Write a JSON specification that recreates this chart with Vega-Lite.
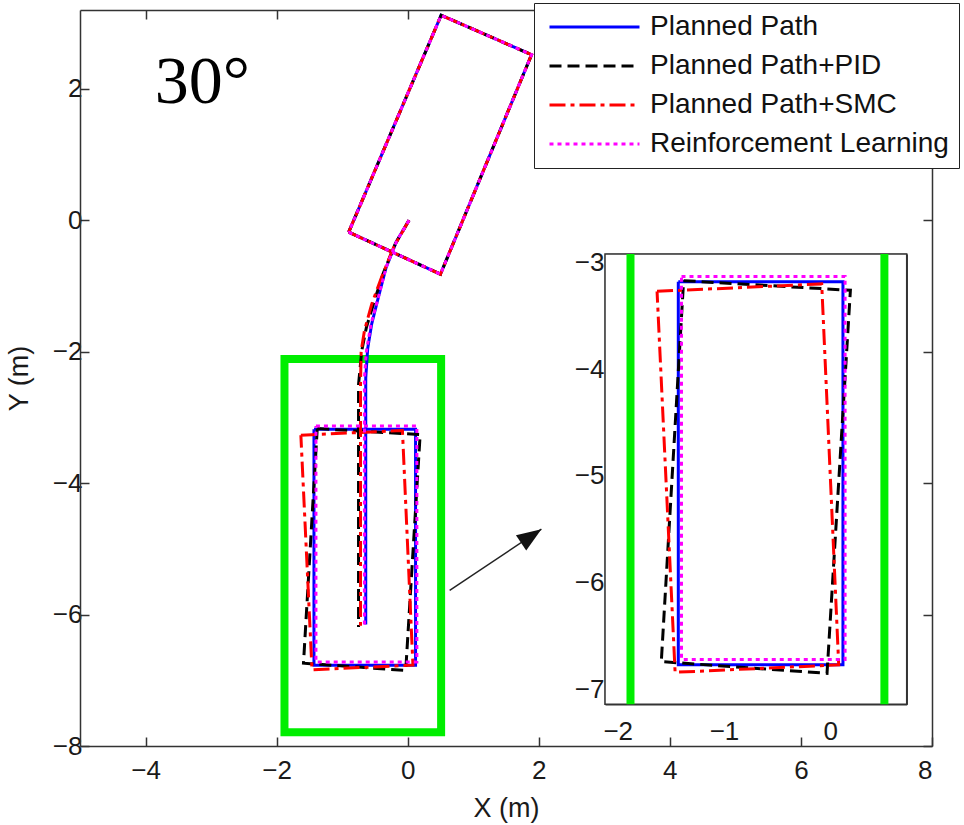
{
  "$schema": "https://vega.github.io/schema/vega-lite/v6.json",
  "width": 852,
  "height": 736,
  "autosize": {"type": "none"},
  "padding": {"left": 80, "top": 10, "right": 32, "bottom": 79},
  "background": "white",
  "config": {
    "view": {"stroke": null},
    "axis": {
      "labelFont": "Liberation Sans", "titleFont": "Liberation Sans",
      "labelFontSize": 26, "titleFontSize": 27, "titleFontWeight": "normal",
      "labelColor": "#1a1a1a", "titleColor": "#1a1a1a",
      "domainColor": "#333333", "tickColor": "#333333",
      "domainWidth": 1.5, "tickWidth": 1.5, "grid": false, "zindex": 1
    },
    "legend": {
      "symbolType": "stroke", "symbolSize": 8100, "symbolStrokeWidth": 4,
      "labelFont": "Liberation Sans", "labelFontSize": 28, "labelColor": "#111111",
      "padding": 10, "strokeColor": "#222222", "fillColor": "white",
      "rowPadding": 11, "clipHeight": 28, "labelOffset": 9, "symbolOffset": 4, "labelLimit": 500
    }
  },
  "data": {"values": [
    {"s": "Planned Path", "p": "start", "i": 0, "x": -0.90, "y": -0.18},
    {"s": "Planned Path", "p": "start", "i": 1, "x": 0.50, "y": -0.82},
    {"s": "Planned Path", "p": "start", "i": 2, "x": 1.89, "y": 2.52},
    {"s": "Planned Path", "p": "start", "i": 3, "x": 0.51, "y": 3.12},
    {"s": "Planned Path", "p": "start", "i": 4, "x": -0.90, "y": -0.18},
    {"s": "Planned Path", "p": "path", "i": 0, "x": 0.02, "y": 0.0},
    {"s": "Planned Path", "p": "path", "i": 1, "x": -0.17, "y": -0.32},
    {"s": "Planned Path", "p": "path", "i": 2, "x": -0.33, "y": -0.72},
    {"s": "Planned Path", "p": "path", "i": 3, "x": -0.45, "y": -1.18},
    {"s": "Planned Path", "p": "path", "i": 4, "x": -0.55, "y": -1.58},
    {"s": "Planned Path", "p": "path", "i": 5, "x": -0.61, "y": -1.95},
    {"s": "Planned Path", "p": "path", "i": 6, "x": -0.64, "y": -2.4},
    {"s": "Planned Path", "p": "path", "i": 7, "x": -0.64, "y": -6.15},
    {"s": "Planned Path", "p": "end", "i": 0, "x": -1.43, "y": -3.18},
    {"s": "Planned Path", "p": "end", "i": 1, "x": 0.12, "y": -3.18},
    {"s": "Planned Path", "p": "end", "i": 2, "x": 0.12, "y": -6.77},
    {"s": "Planned Path", "p": "end", "i": 3, "x": -1.43, "y": -6.77},
    {"s": "Planned Path", "p": "end", "i": 4, "x": -1.43, "y": -3.18},

    {"s": "Planned Path+PID", "p": "start", "i": 0, "x": -0.90, "y": -0.18},
    {"s": "Planned Path+PID", "p": "start", "i": 1, "x": 0.50, "y": -0.82},
    {"s": "Planned Path+PID", "p": "start", "i": 2, "x": 1.89, "y": 2.52},
    {"s": "Planned Path+PID", "p": "start", "i": 3, "x": 0.51, "y": 3.12},
    {"s": "Planned Path+PID", "p": "start", "i": 4, "x": -0.90, "y": -0.18},
    {"s": "Planned Path+PID", "p": "path", "i": 0, "x": 0.02, "y": 0.0},
    {"s": "Planned Path+PID", "p": "path", "i": 1, "x": -0.19, "y": -0.36},
    {"s": "Planned Path+PID", "p": "path", "i": 2, "x": -0.37, "y": -0.80},
    {"s": "Planned Path+PID", "p": "path", "i": 3, "x": -0.51, "y": -1.23},
    {"s": "Planned Path+PID", "p": "path", "i": 4, "x": -0.63, "y": -1.63},
    {"s": "Planned Path+PID", "p": "path", "i": 5, "x": -0.70, "y": -1.98},
    {"s": "Planned Path+PID", "p": "path", "i": 6, "x": -0.75, "y": -2.5},
    {"s": "Planned Path+PID", "p": "path", "i": 7, "x": -0.75, "y": -6.19},
    {"s": "Planned Path+PID", "p": "end", "i": 0, "x": -1.38, "y": -3.17},
    {"s": "Planned Path+PID", "p": "end", "i": 1, "x": 0.19, "y": -3.26},
    {"s": "Planned Path+PID", "p": "end", "i": 2, "x": -0.03, "y": -6.85},
    {"s": "Planned Path+PID", "p": "end", "i": 3, "x": -1.59, "y": -6.74},
    {"s": "Planned Path+PID", "p": "end", "i": 4, "x": -1.38, "y": -3.17},

    {"s": "Planned Path+SMC", "p": "start", "i": 0, "x": -0.90, "y": -0.18},
    {"s": "Planned Path+SMC", "p": "start", "i": 1, "x": 0.50, "y": -0.82},
    {"s": "Planned Path+SMC", "p": "start", "i": 2, "x": 1.89, "y": 2.52},
    {"s": "Planned Path+SMC", "p": "start", "i": 3, "x": 0.51, "y": 3.12},
    {"s": "Planned Path+SMC", "p": "start", "i": 4, "x": -0.90, "y": -0.18},
    {"s": "Planned Path+SMC", "p": "path", "i": 0, "x": 0.02, "y": 0.0},
    {"s": "Planned Path+SMC", "p": "path", "i": 1, "x": -0.21, "y": -0.40},
    {"s": "Planned Path+SMC", "p": "path", "i": 2, "x": -0.40, "y": -0.87},
    {"s": "Planned Path+SMC", "p": "path", "i": 3, "x": -0.55, "y": -1.28},
    {"s": "Planned Path+SMC", "p": "path", "i": 4, "x": -0.66, "y": -1.68},
    {"s": "Planned Path+SMC", "p": "path", "i": 5, "x": -0.71, "y": -1.99},
    {"s": "Planned Path+SMC", "p": "path", "i": 6, "x": -0.72, "y": -2.5},
    {"s": "Planned Path+SMC", "p": "path", "i": 7, "x": -0.72, "y": -6.17},
    {"s": "Planned Path+SMC", "p": "end", "i": 0, "x": -1.63, "y": -3.27},
    {"s": "Planned Path+SMC", "p": "end", "i": 1, "x": -0.08, "y": -3.20},
    {"s": "Planned Path+SMC", "p": "end", "i": 2, "x": 0.08, "y": -6.77},
    {"s": "Planned Path+SMC", "p": "end", "i": 3, "x": -1.46, "y": -6.84},
    {"s": "Planned Path+SMC", "p": "end", "i": 4, "x": -1.63, "y": -3.27},

    {"s": "Reinforcement Learning", "p": "start", "i": 0, "x": -0.90, "y": -0.18},
    {"s": "Reinforcement Learning", "p": "start", "i": 1, "x": 0.50, "y": -0.82},
    {"s": "Reinforcement Learning", "p": "start", "i": 2, "x": 1.89, "y": 2.52},
    {"s": "Reinforcement Learning", "p": "start", "i": 3, "x": 0.51, "y": 3.12},
    {"s": "Reinforcement Learning", "p": "start", "i": 4, "x": -0.90, "y": -0.18},
    {"s": "Reinforcement Learning", "p": "path", "i": 0, "x": 0.02, "y": 0.0},
    {"s": "Reinforcement Learning", "p": "path", "i": 1, "x": -0.17, "y": -0.32},
    {"s": "Reinforcement Learning", "p": "path", "i": 2, "x": -0.33, "y": -0.72},
    {"s": "Reinforcement Learning", "p": "path", "i": 3, "x": -0.45, "y": -1.18},
    {"s": "Reinforcement Learning", "p": "path", "i": 4, "x": -0.56, "y": -1.58},
    {"s": "Reinforcement Learning", "p": "path", "i": 5, "x": -0.63, "y": -1.99},
    {"s": "Reinforcement Learning", "p": "path", "i": 6, "x": -0.66, "y": -2.4},
    {"s": "Reinforcement Learning", "p": "path", "i": 7, "x": -0.66, "y": -6.15},
    {"s": "Reinforcement Learning", "p": "end", "i": 0, "x": -1.40, "y": -3.13},
    {"s": "Reinforcement Learning", "p": "end", "i": 1, "x": 0.14, "y": -3.13},
    {"s": "Reinforcement Learning", "p": "end", "i": 2, "x": 0.14, "y": -6.72},
    {"s": "Reinforcement Learning", "p": "end", "i": 3, "x": -1.40, "y": -6.72},
    {"s": "Reinforcement Learning", "p": "end", "i": 4, "x": -1.40, "y": -3.13}
  ]},
  "layer": [
    {
      "layer": [
        {
          "data": {"values": [{"x1": -1.88, "x2": 0.51, "y1": -7.79, "y2": -2.11}]},
          "mark": {"type": "rect", "filled": false, "stroke": "#00ee00", "strokeWidth": 8, "strokeJoin": "miter"},
          "encoding": {
            "x": {"field": "x1", "type": "quantitative", "scale": {"domain": [-5, 8], "nice": false, "zero": false},
                  "axis": {"orient": "top", "values": [-4, -2, 0, 2, 4, 6, 8], "labels": false, "title": null, "tickSize": -9}},
            "x2": {"field": "x2"},
            "y": {"field": "y1", "type": "quantitative", "scale": {"domain": [-8, 3.2], "nice": false, "zero": false},
                  "axis": {"orient": "right", "values": [-8, -6, -4, -2, 0, 2], "labels": false, "title": null, "tickSize": -9}},
            "y2": {"field": "y2"}
          }
        },
        {
          "mark": {"type": "line", "strokeCap": "butt", "strokeJoin": "miter"},
          "encoding": {
            "x": {"field": "x", "type": "quantitative", "scale": {"domain": [-5, 8], "nice": false, "zero": false},
                  "axis": {"orient": "bottom", "values": [-4, -2, 0, 2, 4, 6, 8], "title": "X (m)", "tickSize": -9, "labelPadding": 20, "titlePadding": 12}},
            "y": {"field": "y", "type": "quantitative", "scale": {"domain": [-8, 3.2], "nice": false, "zero": false},
                  "axis": {"orient": "left", "values": [-8, -6, -4, -2, 0, 2], "title": "Y (m)", "tickSize": -9, "labelPadding": 7, "titlePadding": 19}},
            "color": {"field": "s", "type": "nominal",
                      "scale": {"domain": ["Planned Path", "Planned Path+PID", "Planned Path+SMC", "Reinforcement Learning"], "range": ["#0000ff", "#000000", "#ff0000", "#ff00ff"]},
                      "legend": {"title": null, "orient": "none", "legendX": 454, "legendY": -7}},
            "strokeDash": {"field": "s", "type": "nominal",
                      "scale": {"domain": ["Planned Path", "Planned Path+PID", "Planned Path+SMC", "Reinforcement Learning"], "range": [[1, 0], [12, 6], [16, 5, 4, 5], [4, 4]]},
                      "legend": {"title": null, "orient": "none", "legendX": 454, "legendY": -7}},
            "strokeWidth": {"field": "s", "type": "nominal",
                      "scale": {"domain": ["Planned Path", "Planned Path+PID", "Planned Path+SMC", "Reinforcement Learning"], "range": [3, 3, 3, 4.5]},
                      "legend": {"title": null, "orient": "none", "legendX": 454, "legendY": -7}},
            "detail": {"field": "p"},
            "order": {"field": "i", "type": "quantitative"}
          }
        },
        {
          "data": {"values": [{"x": 0.64, "y": -5.63, "x2": 2.04, "y2": -4.70}]},
          "layer": [
            {
              "mark": {"type": "rule", "stroke": "#222222", "strokeWidth": 1.5},
              "encoding": {
                "x": {"field": "x", "type": "quantitative", "axis": null},
                "y": {"field": "y", "type": "quantitative", "axis": null},
                "x2": {"field": "x2"},
                "y2": {"field": "y2"}
              }
            },
            {
              "mark": {"type": "point", "shape": "M0,0L0.75,2L-0.75,2Z", "filled": true, "color": "#111111", "opacity": 1, "size": 600, "angle": 56, "strokeWidth": 0},
              "encoding": {
                "x": {"field": "x2", "type": "quantitative", "axis": null},
                "y": {"field": "y2", "type": "quantitative", "axis": null}
              }
            }
          ]
        },
        {
          "data": {"values": [{"label": "30°", "x": -3.86, "y": 1.79}]},
          "mark": {"type": "text", "font": "Liberation Serif", "fontSize": 68, "align": "left", "baseline": "alphabetic", "color": "#000000"},
          "encoding": {
            "x": {"field": "x", "type": "quantitative", "axis": null},
            "y": {"field": "y", "type": "quantitative", "axis": null},
            "text": {"field": "label"}
          }
        }
      ],
      "resolve": {"axis": {"x": "independent", "y": "independent"}}
    },
    {
      "layer": [
        {
          "data": {"values": [{"x1": -2.12, "x2": 0.72, "y1": -7.14, "y2": -2.92}]},
          "mark": {"type": "rect", "fill": "white", "stroke": "#333333", "strokeWidth": 1.5},
          "encoding": {
            "x": {"field": "x1", "type": "quantitative", "scale": {"domain": [-2.12, 0.72], "range": [525, 826.7], "nice": false, "zero": false},
                  "axis": {"orient": "bottom", "offset": -41.7, "values": [-2, -1, 0], "title": null, "tickSize": -6, "labelPadding": 20}},
            "x2": {"field": "x2"},
            "y": {"field": "y1", "type": "quantitative", "scale": {"domain": [-7.14, -2.92], "range": [694.3, 244], "nice": false, "zero": false},
                  "axis": {"orient": "left", "offset": -525, "values": [-7, -6, -5, -4, -3], "title": null, "tickSize": -6, "labelPadding": 7}},
            "y2": {"field": "y2"}
          }
        },
        {
          "data": {"values": [{"gx": -1.88, "ylo": -7.14, "yhi": -2.92}, {"gx": 0.51, "ylo": -7.14, "yhi": -2.92}]},
          "mark": {"type": "rule", "stroke": "#00ee00", "strokeWidth": 8},
          "encoding": {
            "x": {"field": "gx", "type": "quantitative", "scale": {"domain": [-2.12, 0.72], "range": [525, 826.7], "nice": false, "zero": false},
                  "axis": {"orient": "top", "offset": -244, "values": [-2, -1, 0], "labels": false, "title": null, "tickSize": -6}},
            "y": {"field": "ylo", "type": "quantitative", "scale": {"domain": [-7.14, -2.92], "range": [694.3, 244], "nice": false, "zero": false},
                  "axis": {"orient": "right", "offset": -25.3, "values": [-7, -6, -5, -4, -3], "labels": false, "title": null, "tickSize": -6}},
            "y2": {"field": "yhi"}
          }
        },
        {
          "transform": [{"filter": "datum.p === 'end'"}],
          "mark": {"type": "line", "strokeCap": "butt", "strokeJoin": "miter"},
          "encoding": {
            "x": {"field": "x", "type": "quantitative", "scale": {"domain": [-2.12, 0.72], "range": [525, 826.7], "nice": false, "zero": false}, "axis": null},
            "y": {"field": "y", "type": "quantitative", "scale": {"domain": [-7.14, -2.92], "range": [694.3, 244], "nice": false, "zero": false}, "axis": null},
            "color": {"field": "s", "type": "nominal", "legend": null},
            "strokeDash": {"field": "s", "type": "nominal", "legend": null},
            "strokeWidth": {"field": "s", "type": "nominal", "legend": null},
            "detail": {"field": "p"},
            "order": {"field": "i", "type": "quantitative"}
          }
        }
      ],
      "resolve": {"axis": {"x": "independent", "y": "independent"}}
    }
  ],
  "resolve": {"scale": {"x": "independent", "y": "independent"}}
}
